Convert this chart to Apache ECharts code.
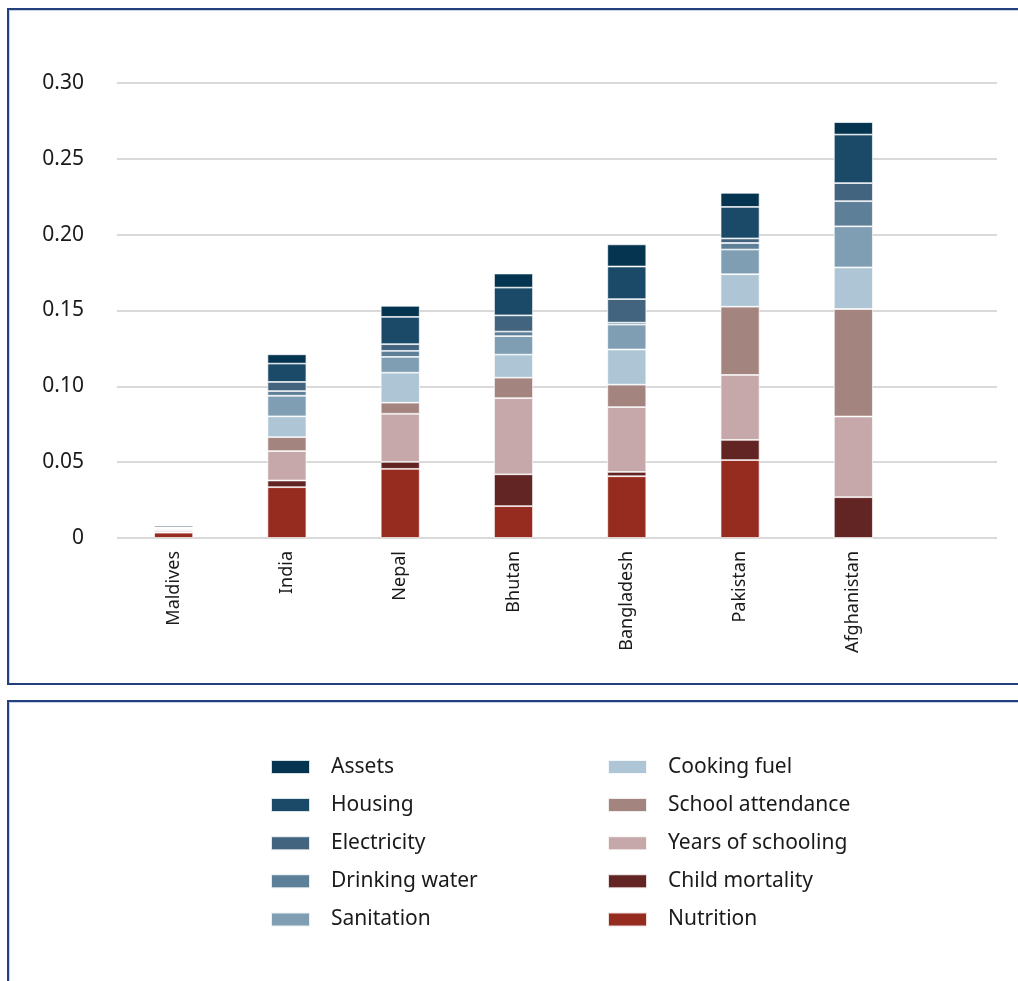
<!DOCTYPE html>
<html>
<head>
<meta charset="utf-8">
<script src="https://cdn.jsdelivr.net/npm/echarts@6/dist/echarts.min.js"></script>
<style>
html,body{margin:0;padding:0;background:#fff;}
#wrap{position:relative;width:1018px;height:981px;overflow:hidden;}
#chart{position:absolute;left:0;top:0;width:1018px;height:981px;}
.box{position:absolute;border:2px solid #223f7e;box-shadow:inset 1px 1px 0 #c9d3e6;}
</style>
</head>
<body>
<div id="wrap">
<div class="box" style="left:7px;top:8px;width:1030px;height:673px;"></div>
<div class="box" style="left:7px;top:700px;width:1030px;height:320px;"></div>
<div id="chart"></div>
</div>
<script>
const categories = ['Maldives','India','Nepal','Bhutan','Bangladesh','Pakistan','Afghanistan'];
const nutrition        = [0.0035, 0.0335, 0.0456, 0.0210, 0.0407, 0.0514, 0];
const childMortality   = [0.0003, 0.0044, 0.0046, 0.0210, 0.0029, 0.0133, 0.0269];
const yearsSchooling   = [0.0012, 0.0194, 0.0317, 0.0502, 0.0427, 0.0428, 0.0532];
const schoolAttendance = [0.0008, 0.0092, 0.0073, 0.0135, 0.0148, 0.0450, 0.0709];
const cookingFuel      = [0.0004, 0.0137, 0.0198, 0.0152, 0.0232, 0.0214, 0.0274];
const sanitation       = [0.0004, 0.0136, 0.0104, 0.0122, 0.0164, 0.0163, 0.0271];
const drinkingWater    = [0.0002, 0.0031, 0.0040, 0.0030, 0.0013, 0.0043, 0.0166];
const electricity      = [0.0002, 0.0060, 0.0044, 0.0107, 0.0155, 0.0030, 0.0119];
const housing          = [0.0011, 0.0121, 0.0180, 0.0183, 0.0215, 0.0208, 0.0320];
const assets           = [0.0005, 0.0061, 0.0073, 0.0093, 0.0146, 0.0093, 0.0082];
const yTicks = [0, 0.05, 0.10, 0.15, 0.20, 0.25, 0.30];

const seriesDefs = [
  ['Nutrition', nutrition, '#962b20'],
  ['Child mortality', childMortality, '#632424'],
  ['Years of schooling', yearsSchooling, '#c6a8aa'],
  ['School attendance', schoolAttendance, '#a3847e'],
  ['Cooking fuel', cookingFuel, '#adc5d4'],
  ['Sanitation', sanitation, '#7f9db3'],
  ['Drinking water', drinkingWater, '#5d7f98'],
  ['Electricity', electricity, '#42647f'],
  ['Housing', housing, '#1a4a68'],
  ['Assets', assets, '#04344f']
];

const FONT = 'Noto Sans';
const chart = echarts.init(document.getElementById('chart'), null, {renderer:'canvas'});

const legendText = {fontFamily: FONT, fontSize: 21, color: '#1a1a1a', lineHeight: 24, padding:[0,0,0,16]};
const option = {
  animation: false,
  backgroundColor: 'transparent',
  grid: [
    {left: 117, top: 83, width: 793, bottom: 443},
    {left: 117, top: 83, right: 21, bottom: 443}
  ],
  legend: [
    {
      data: ['Assets','Housing','Electricity','Drinking water','Sanitation'],
      orient: 'vertical', left: 270, top: 755, padding: 0,
      itemWidth: 39, itemHeight: 14, itemGap: 14.1,
      icon: 'rect', selectedMode: false,
      textStyle: legendText
    },
    {
      data: ['Cooking fuel','School attendance','Years of schooling','Child mortality','Nutrition'],
      orient: 'vertical', left: 607, top: 755, padding: 0,
      itemWidth: 39, itemHeight: 14, itemGap: 14.1,
      icon: 'rect', selectedMode: false,
      textStyle: legendText
    }
  ],
  xAxis: [
    {
      type: 'category', gridIndex: 0, data: categories,
      axisLine: {show: false}, axisTick: {show: false},
      axisLabel: {rotate: 90, margin: 13, fontFamily: FONT, fontSize: 18, color: '#1a1a1a'}
    },
    {
      type: 'value', gridIndex: 1, show: false
    }
  ],
  yAxis: [
    {
      type: 'value', gridIndex: 0, min: 0, max: 0.30, interval: 0.05, show: false
    },
    {
      type: 'value', gridIndex: 1, min: 0, max: 0.30, interval: 0.05,
      axisLine: {show: false}, axisTick: {show: false},
      splitLine: {show: true, lineStyle: {color: '#cccccc', width: 1.5}},
      axisLabel: {
        margin: 33, fontFamily: FONT, fontSize: 21, color: '#1a1a1a',
        formatter: v => {
          const t = yTicks.find(x => Math.abs(x - v) < 1e-9);
          return t === 0 ? '0' : v.toFixed(2);
        }
      }
    }
  ],
  series: seriesDefs.map(([name, data, color]) => ({
    name, type: 'bar', stack: 'total', data,
    xAxisIndex: 0, yAxisIndex: 0,
    barWidth: 39,
    itemStyle: {color, borderColor: 'rgba(255,255,255,0.85)', borderWidth: 0.8}
  }))
};
chart.setOption(option);
</script>
</body>
</html>
